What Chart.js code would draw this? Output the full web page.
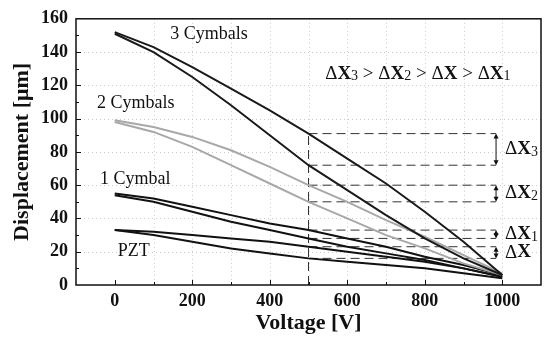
<!DOCTYPE html>
<html>
<head>
<meta charset="utf-8">
<script src="https://cdn.jsdelivr.net/npm/chart.js@4.4.1/dist/chart.umd.min.js"></script>
<style>
  html, body { margin: 0; padding: 0; background: #fff; }
  canvas { display: block; }
</style>
</head>
<body>
<canvas id="chart" width="545" height="337"></canvas>
<script>
// values (hysteresis loops, two branches each)
const voltage = [0, 100, 200, 300, 400, 500, 600, 700, 800, 900, 1000];
const cymbal3Up = [152, 143, 131, 118, 105, 91, 76, 61, 44, 26, 6];
const cymbal3Down = [151, 140, 125, 108, 90, 72, 57, 42, 28, 16, 6];
const cymbal2Up = [99, 95, 89, 81, 71, 60, 50, 39, 29, 18, 7];
const cymbal2Down = [98, 92, 83, 72, 61, 50, 40, 30, 22, 13, 6];
const cymbal1Up = [55, 52, 47, 42, 37, 33, 28, 23, 17, 12, 6];
const cymbal1Down = [54, 50, 44, 38, 33, 28, 23, 19, 15, 10, 5];
const pztUp = [33, 32, 30, 28, 26, 23, 20, 17, 14, 10, 5];
const pztDown = [33, 30, 26, 22, 19, 16, 14, 12, 10, 7, 4];

const xTicks = [0, 200, 400, 600, 800, 1000];
const yTicks = [0, 20, 40, 60, 80, 100, 120, 140, 160];

// the delta-X construction at 500 V
const markVoltage = 500;
const markEnd = 984;
const deltaPairs = [
  { sub: "3", up: cymbal3Up, down: cymbal3Down },
  { sub: "2", up: cymbal2Up, down: cymbal2Down },
  { sub: "1", up: cymbal1Up, down: cymbal1Down },
  { sub: "", up: pztUp, down: pztDown },
];

const serif = '"Liberation Serif", "Times New Roman", serif';
const markIndex = voltage.indexOf(markVoltage);

function toPoints(values) {
  return voltage.map((v, i) => ({ x: v, y: values[i] }));
}

function curve(values, color) {
  return {
    data: toPoints(values),
    borderColor: color,
    borderWidth: 2,
    pointRadius: 0,
    tension: 0,
    fill: false,
  };
}

function guide(points) {
  return {
    data: points,
    borderColor: "#333",
    borderWidth: 1,
    borderDash: [9, 5],
    pointRadius: 0,
    fill: false,
  };
}

const datasets = [
  curve(cymbal3Up, "#1a1a1a"),
  curve(cymbal3Down, "#1a1a1a"),
  curve(cymbal2Up, "#a8a8a8"),
  curve(cymbal2Down, "#a8a8a8"),
  curve(cymbal1Up, "#111"),
  curve(cymbal1Down, "#111"),
  curve(pztUp, "#111"),
  curve(pztDown, "#111"),
  guide([{ x: markVoltage, y: 0 }, { x: markVoltage, y: cymbal3Up[markIndex] }]),
];

deltaPairs.forEach((pair) => {
  [pair.up, pair.down].forEach((series) => {
    const level = series[markIndex];
    datasets.push(guide([{ x: markVoltage, y: level }, { x: markEnd, y: level }]));
  });
});

const curveLabels = [
  { text: "3 Cymbals", x: 143, y: 150.5 },
  { text: "2 Cymbals", x: -46, y: 109.5 },
  { text: "1 Cymbal", x: -38, y: 63.5 },
  { text: "PZT", x: 8, y: 20.5 },
];

function drawDelta(ctx, x, y, sub, size) {
  ctx.font = `${size}px ${serif}`;
  ctx.fillText("\u0394", x, y);
  x += ctx.measureText("\u0394").width;
  ctx.font = `bold ${size}px ${serif}`;
  ctx.fillText("X", x, y);
  x += ctx.measureText("X").width;
  if (sub) {
    ctx.font = `${Math.round(size * 0.72)}px ${serif}`;
    ctx.fillText(sub, x, y + size * 0.15);
    x += ctx.measureText(sub).width;
  }
  return x;
}

const decorations = {
  id: "decorations",
  beforeDatasetsDraw(chart) {
    const { ctx, chartArea: area, scales } = chart;
    ctx.save();
    ctx.strokeStyle = "#cccccc";
    ctx.lineWidth = 1;
    ctx.setLineDash([1, 3]);
    for (let v = 100; v <= 1000; v += 100) {
      const px = Math.round(scales.x.getPixelForValue(v)) + 0.5;
      ctx.beginPath();
      ctx.moveTo(px, area.top);
      ctx.lineTo(px, area.bottom);
      ctx.stroke();
    }
    yTicks.slice(1, -1).forEach((v) => {
      const py = Math.round(scales.y.getPixelForValue(v)) + 0.5;
      ctx.beginPath();
      ctx.moveTo(area.left, py);
      ctx.lineTo(area.right, py);
      ctx.stroke();
    });
    ctx.restore();
  },
  afterDatasetsDraw(chart) {
    const { ctx, chartArea: area, scales } = chart;
    const sx = scales.x;
    const sy = scales.y;
    ctx.save();

    // frame
    ctx.strokeStyle = "#111";
    ctx.lineWidth = 1.5;
    ctx.strokeRect(area.left, area.top, area.right - area.left, area.bottom - area.top);

    // inner tick marks
    ctx.lineWidth = 1;
    for (let v = 0; v <= 1000; v += 100) {
      const px = Math.round(sx.getPixelForValue(v)) + 0.5;
      const len = v % 200 === 0 ? 5 : 3;
      ctx.beginPath();
      ctx.moveTo(px, area.bottom);
      ctx.lineTo(px, area.bottom - len);
      ctx.stroke();
    }
    for (let v = 10; v < 160; v += 10) {
      const py = Math.round(sy.getPixelForValue(v)) + 0.5;
      const len = v % 20 === 0 ? 5 : 3;
      ctx.beginPath();
      ctx.moveTo(area.left, py);
      ctx.lineTo(area.left + len, py);
      ctx.stroke();
    }

    // double arrows for each delta
    const ax = sx.getPixelForValue(markEnd);
    ctx.fillStyle = "#111";
    deltaPairs.forEach((pair) => {
      const top = sy.getPixelForValue(pair.up[markIndex]);
      const bottom = sy.getPixelForValue(pair.down[markIndex]);
      ctx.beginPath();
      ctx.moveTo(ax, top + 2);
      ctx.lineTo(ax, bottom - 2);
      ctx.stroke();
      ctx.beginPath();
      ctx.moveTo(ax, top);
      ctx.lineTo(ax - 2.5, top + 5);
      ctx.lineTo(ax + 2.5, top + 5);
      ctx.closePath();
      ctx.fill();
      ctx.beginPath();
      ctx.moveTo(ax, bottom);
      ctx.lineTo(ax - 2.5, bottom - 5);
      ctx.lineTo(ax + 2.5, bottom - 5);
      ctx.closePath();
      ctx.fill();

      const mid = (pair.up[markIndex] + pair.down[markIndex]) / 2;
      ctx.textBaseline = "middle";
      drawDelta(ctx, ax + 9, sy.getPixelForValue(mid), pair.sub, 19);
    });

    // curve names
    ctx.textBaseline = "middle";
    ctx.textAlign = "left";
    ctx.font = `18px ${serif}`;
    curveLabels.forEach((label) => {
      ctx.fillText(label.text, sx.getPixelForValue(label.x), sy.getPixelForValue(label.y));
    });

    // inequality line
    let x = sx.getPixelForValue(543);
    const y = sy.getPixelForValue(127);
    const order = ["3", "2", "", "1"];
    order.forEach((sub, i) => {
      x = drawDelta(ctx, x, y, sub, 19);
      if (i < order.length - 1) {
        ctx.font = `19px ${serif}`;
        ctx.fillText(" > ", x, y);
        x += ctx.measureText(" > ").width;
      }
    });

    ctx.restore();
  },
};

new Chart(document.getElementById("chart"), {
  type: "line",
  data: { datasets },
  options: {
    responsive: false,
    animation: false,
    layout: { padding: { top: 12, right: 4, left: 0, bottom: 0 } },
    plugins: {
      legend: { display: false },
      tooltip: { enabled: false },
    },
    scales: {
      x: {
        type: "linear",
        min: -100,
        max: 1100,
        afterBuildTicks(scale) {
          scale.ticks = xTicks.map((value) => ({ value }));
        },
        afterFit(scale) {
          scale.height = 52;
        },
        grid: { display: false, drawTicks: false },
        border: { display: false },
        ticks: {
          color: "#111",
          padding: 6,
          maxRotation: 0,
          callback: (value) => String(value),
          font: { family: serif, size: 18, weight: "bold" },
        },
        title: {
          display: true,
          text: "Voltage [V]",
          color: "#111",
          padding: { top: 0, bottom: 0 },
          font: { family: serif, size: 22, weight: "bold" },
        },
      },
      y: {
        min: 0,
        max: 160,
        afterBuildTicks(scale) {
          scale.ticks = yTicks.map((value) => ({ value }));
        },
        afterFit(scale) {
          scale.width = 76;
        },
        grid: { display: false, drawTicks: false },
        border: { display: false },
        ticks: {
          color: "#111",
          padding: 8,
          callback: (value) => String(value),
          font: { family: serif, size: 18, weight: "bold" },
        },
        title: {
          display: true,
          text: "Displacement [\u03bcm]",
          color: "#111",
          padding: { top: 9, bottom: 0 },
          font: { family: serif, size: 22, weight: "bold" },
        },
      },
    },
  },
  plugins: [decorations],
});
</script>
</body>
</html>
